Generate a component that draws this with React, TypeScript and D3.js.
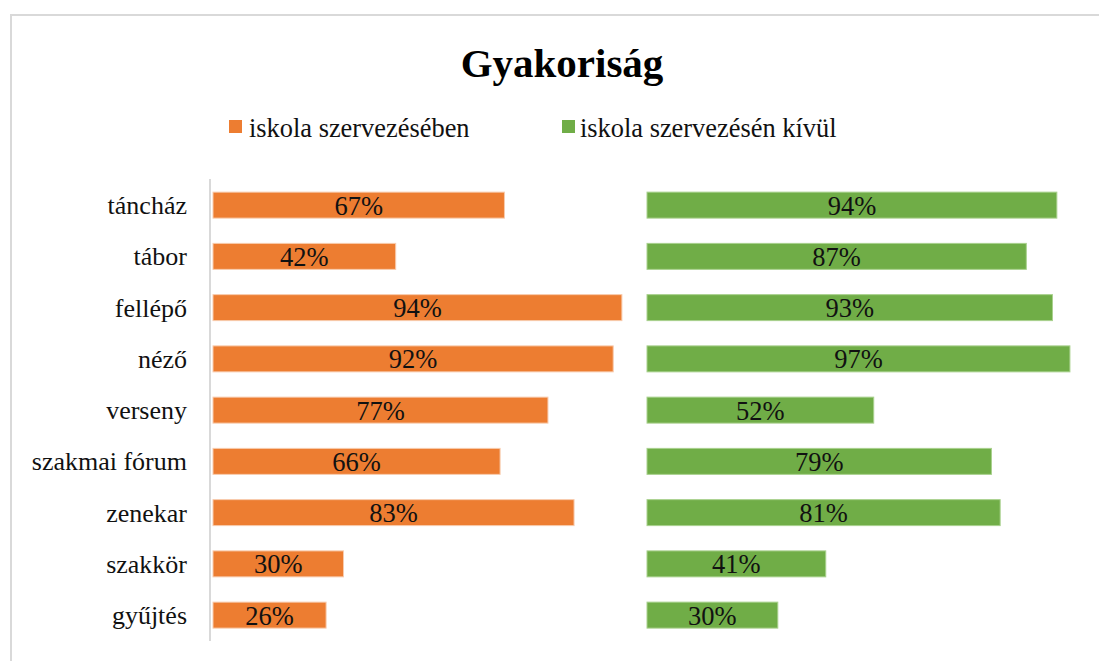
import React from "react";
import * as d3 from "d3";

const title = "Gyakoriság";
const categories = ["táncház", "tábor", "fellépő", "néző", "verseny", "szakmai fórum", "zenekar", "szakkör", "gyűjtés"];
const seriesNames = ["iskola szervezésében", "iskola szervezésén kívül"];
const inSchool = [0.67, 0.42, 0.94, 0.92, 0.77, 0.66, 0.83, 0.30, 0.26];
const outsideSchool = [0.94, 0.87, 0.93, 0.97, 0.52, 0.79, 0.81, 0.41, 0.30];

const W = 1099;
const H = 661;
const ORANGE = "#ED7D31";
const GREEN = "#70AD47";
const FONT = "Liberation Serif, Times New Roman, serif";
const ts: React.CSSProperties = { fontFamily: FONT };

export default function App() {
  const y = d3.scaleBand<string>().domain(categories).range([179.5, 640.75]).paddingInner(0.493).paddingOuter(0.2465);
  const x1 = d3.scaleLinear().domain([0, 1]).range([213, 648]);
  const x2 = d3.scaleLinear().domain([0, 1]).range([647, 1083]);
  const fmt = d3.format(".0%");
  const bh = y.bandwidth();

  const panels = [
    { data: inSchool, x: x1, color: ORANGE, stroke: "#f8cbad" },
    { data: outsideSchool, x: x2, color: GREEN, stroke: "#a9d18e" },
  ];

  return (
    <svg width={W} height={H} style={{ position: "absolute", left: 0, top: 0, background: "#fff" }}>
      <rect x={0} y={0} width={W} height={H} fill="#fff" />
      <rect x={11} y={15} width={W + 20} height={H + 20} fill="#fff" stroke="#d9d9d9" strokeWidth={2} />
      <text x={562} y={77} textAnchor="middle" fontSize={41} fontWeight="bold" fill="#000" style={ts}>{title}</text>
      {/* legend */}
      <rect x={229} y={120} width={13} height={13} fill={ORANGE} />
      <text x={249} y={137} fontSize={26.4} fill="#111" style={ts}>{seriesNames[0]}</text>
      <rect x={562} y={120} width={13} height={13} fill={GREEN} />
      <text x={580} y={137} fontSize={26.4} fill="#111" style={ts}>{seriesNames[1]}</text>
      {/* axis */}
      <line x1={210} x2={210} y1={179} y2={641} stroke="#d9d9d9" strokeWidth={2} />
      {categories.map((c) => (
        <text key={c} x={187} y={(y(c) as number) + bh / 2} dy="0.35em" textAnchor="end" fontSize={26} fill="#111" style={ts}>{c}</text>
      ))}
      {panels.map((p, pi) => (
        <g key={pi}>
          {categories.map((c, i) => {
            const x0 = p.x(0);
            const xe = p.x(p.data[i]);
            const yy = y(c) as number;
            return (
              <g key={c}>
                <rect x={x0} y={yy} width={xe - x0} height={bh} fill={p.color} stroke={p.stroke} strokeWidth={1} />
                <text x={(x0 + xe) / 2} y={yy + bh / 2} dy="0.36em" textAnchor="middle" fontSize={26.5} fill="#111" style={ts}>{fmt(p.data[i])}</text>
              </g>
            );
          })}
        </g>
      ))}
    </svg>
  );
}
